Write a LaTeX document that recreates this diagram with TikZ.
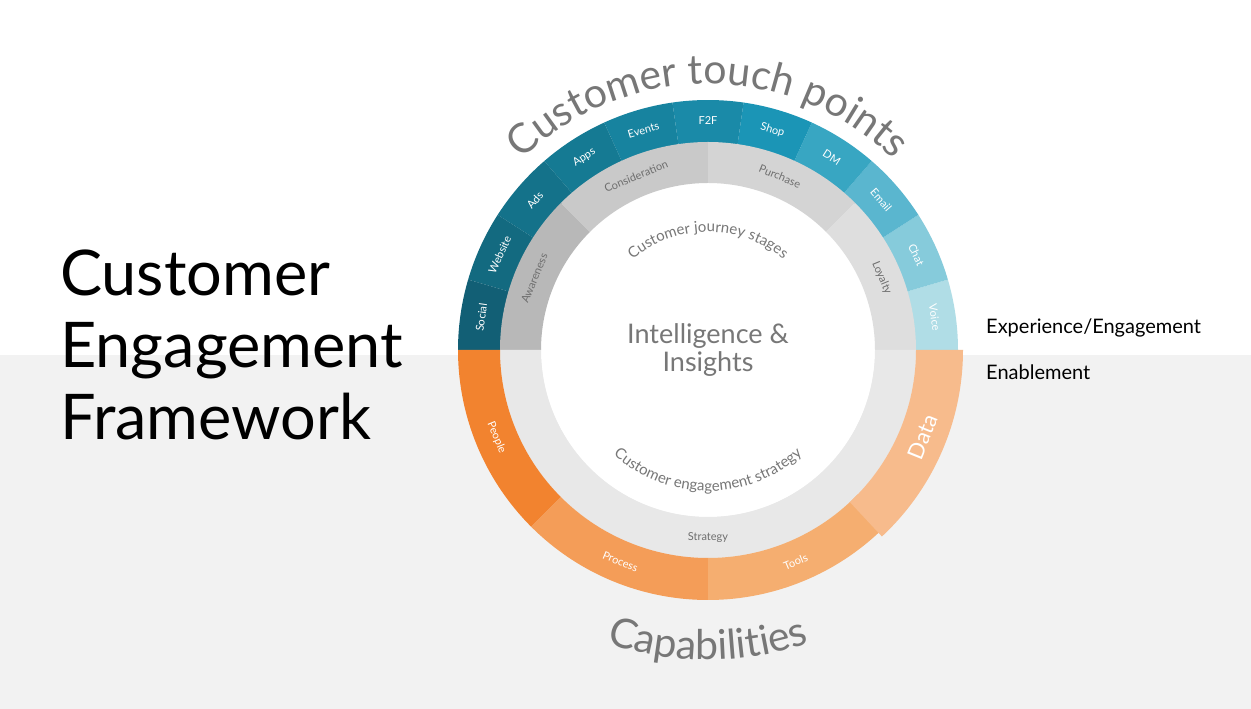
\documentclass[tikz,border=0pt]{standalone}
\usepackage{fontspec}
\setmainfont{Lato}
\usetikzlibrary{decorations.text}
\definecolor{bgg}{HTML}{F2F2F2}
\definecolor{txg}{HTML}{777777}
\definecolor{lab}{HTML}{6E6E6E}
\newcommand\annsec[5]{\fill[#1] (#2:#5) arc[start angle=#2,end angle=#3,radius=#5] -- (#3:#4) arc[start angle=#3,end angle=#2,radius=#4] -- cycle;}
\tikzset{seglab/.style={text=white,font=\fontsize{11}{11}\selectfont,inner sep=0pt},
  graylab/.style={text=lab,font=\fontsize{11}{11}\selectfont,inner sep=0pt}}
\begin{document}
\begin{tikzpicture}[x=1pt,y=1pt]
\useasboundingbox (0,0) rectangle (1251,709);
\fill[white] (0,0) rectangle (1251,709);
\fill[bgg] (0,0) rectangle (1251,354);
\node[anchor=north west,align=left,font=\fontsize{63}{72}\selectfont,inner sep=0pt] (title) at (60,459) {Customer\\Engagement\\Framework};
\node[anchor=west,font=\fontsize{20}{20}\selectfont,inner sep=0pt] (exp) at (986,381) {Experience/Engagement};
\node[anchor=west,font=\fontsize{20}{20}\selectfont,inner sep=0pt] (enabl) at (986,337) {Enablement};
\begin{scope}[shift={(708,359)}]
\fill[white] (0,0) circle (167);
\foreach \i/\c/\t in {0/B0DDE6/Voice,1/86CBDB/Chat,2/5AB6CF/Email,3/38A6C2/DM,4/1B95B6/Shop,5/1A8AA8/F2F,6/17839F/Events,7/157A93/Apps,8/14728A/Ads,9/136A80/Website,10/125F75/Social}{
  \pgfmathsetmacro\aa{\i*180/11}
  \pgfmathsetmacro\ab{(\i+1)*180/11}
  \pgfmathsetmacro\am{(\i+0.5)*180/11}
  \definecolor{segc}{HTML}{\c}
  \annsec{segc}{\aa}{\ab}{207}{250}
  \node[seglab,rotate=\am-90] (t\i) at (\am:229) {\t};
}
\annsec{black!28}{135}{180}{167}{208}
\annsec{black!21}{90}{135}{167}{208}
\annsec{black!17}{45}{90}{167}{208}
\annsec{black!13}{0}{45}{167}{208}
\annsec{black!9}{180}{360}{167}{208}
\node[graylab,rotate=67.5] (aw) at (157.5:188) {Awareness};
\node[graylab,rotate=22.5] (co) at (112.5:188) {Consideration};
\node[graylab,rotate=-22.5] (pu) at (67.5:188) {Purchase};
\node[graylab,rotate=-67.5] (lo) at (22.5:188) {Loyalty};
\node[graylab] (st) at (270:188) {Strategy};
\definecolor{op}{HTML}{F2832F}\definecolor{opr}{HTML}{F49D58}\definecolor{ot}{HTML}{F5AE70}\definecolor{od}{HTML}{F7BB8C}
\annsec{op}{180}{225}{208}{250}
\annsec{opr}{225}{270}{208}{250}
\annsec{ot}{270}{316}{208}{250}
\annsec{od}{-47}{0}{208}{255}
\node[seglab,rotate=-67.5] (pe) at (202.5:229) {People};
\node[seglab,rotate=-22.5] (pr) at (247.5:229) {Process};
\node[seglab,rotate=22.5] (to) at (292.5:229) {Tools};
\node[seglab,rotate=68,font=\fontsize{22}{22}\selectfont] (da) at (-22:232) {Data};
\node[text=txg,align=center,font=\fontsize{27}{28}\selectfont] (ii) at (0,0) {Intelligence \&\\Insights};
\path[decorate,decoration={text along path,text align=center,text={|\fontsize{41}{41}\selectfont\color{txg}|Customer touch points}}] (165:266) arc[start angle=165,end angle=15,radius=266];
\path[decorate,decoration={text along path,text align=center,text={|\fontsize{41}{41}\selectfont\color{txg}|Capabilities}}] (235:310) arc[start angle=235,end angle=305,radius=310];
\path[decorate,decoration={text along path,text align=center,text={|\fontsize{15}{15}\selectfont\color{txg}|Customer journey stages}}] (150:118) arc[start angle=150,end angle=30,radius=118];
\path[decorate,decoration={text along path,text align=center,text={|\fontsize{15}{15}\selectfont\color{txg}|Customer engagement strategy}}] (195:141) arc[start angle=195,end angle=345,radius=141];
\end{scope}
\end{tikzpicture}
\end{document}
